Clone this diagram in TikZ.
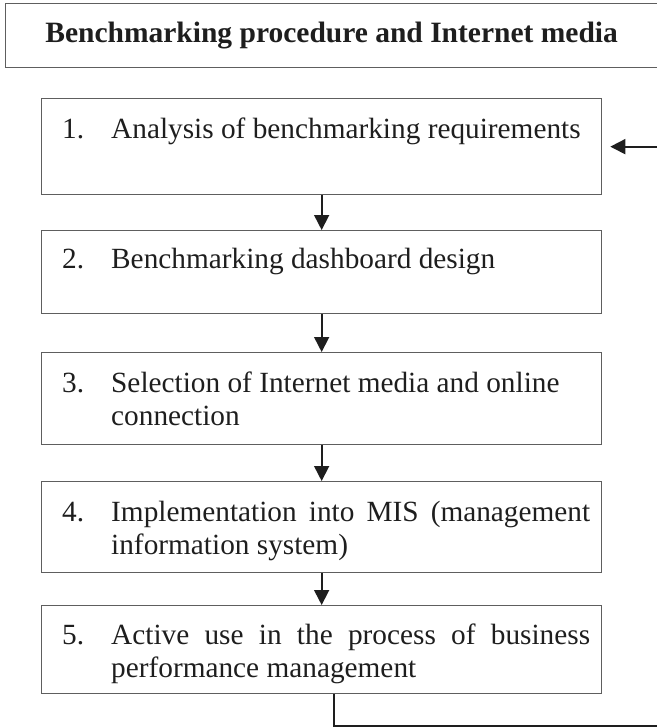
\documentclass[tikz,border=0pt]{standalone}
\usepackage{fontspec}
\setmainfont{Liberation Serif}
\usetikzlibrary{arrows.meta}
\definecolor{boxgray}{HTML}{5E5E5E}
\definecolor{ink}{HTML}{1E1E1E}
\tikzset{
  stepbox/.style={draw=boxgray, line width=1.3pt, rectangle, inner sep=0pt, anchor=north west, minimum width=560pt},
  titlebox/.style={draw=boxgray, line width=1.3pt, rectangle, inner sep=0pt, anchor=north west, minimum width=652pt, minimum height=64pt, text=ink, font=\fontsize{29.5}{33}\selectfont\bfseries},
  txt/.style={anchor=base west, inner sep=0pt, text=ink, font=\fontsize{29.3}{33}\selectfont},
  flow/.style={draw=ink, line width=1.7pt, -{Triangle[length=15pt,width=15pt]}},
}
\begin{document}
\begin{tikzpicture}[x=1pt,y=-1pt]
\useasboundingbox (0,0) rectangle (656,728);
% title
\node[titlebox] (title) at (5,3) {Benchmarking procedure and Internet media};
% boxes
\node[stepbox, minimum height=96pt] (b1) at (41,98) {};
\node[stepbox, minimum height=83pt] (b2) at (41,230) {};
\node[stepbox, minimum height=92pt] (b3) at (41,352) {};
\node[stepbox, minimum height=91pt] (b4) at (41,481) {};
\node[stepbox, minimum height=88pt] (b5) at (41,605) {};
% texts
\node[txt] (n1) at (62,138) {1.};
\node[txt] (t1) at (111,138) {Analysis of benchmarking requirements};
\node[txt] (n2) at (62,268) {2.};
\node[txt] (t2) at (111,268) {Benchmarking dashboard design};
\node[txt] (n3) at (62,392) {3.};
\node[txt] (t3a) at (111,392) {Selection of Internet media and online};
\node[txt] (t3b) at (111,425) {connection};
\node[txt] (n4) at (62,521) {4.};
\node[txt] (t4a) at (111,521) {\makebox[479pt][s]{Implementation into MIS (management}};
\node[txt] (t4b) at (111,554) {information system)};
\node[txt] (n5) at (62,644) {5.};
\node[txt] (t5a) at (111,644) {\makebox[479pt][s]{Active use in the process of business}};
\node[txt] (t5b) at (111,677) {performance management};
% arrows
\draw[flow] (b1.south) -- (b2.north);
\draw[flow] (b2.south) -- (b3.north);
\draw[flow] (b3.south) -- (b4.north);
\draw[flow] (b4.south) -- (b5.north);
% feedback loop
\coordinate (fb) at (662,726);
\draw[flow, shorten >=8pt] ([xshift=12pt]b5.south) |- (fb) |- (b1.east);
\end{tikzpicture}
\end{document}
